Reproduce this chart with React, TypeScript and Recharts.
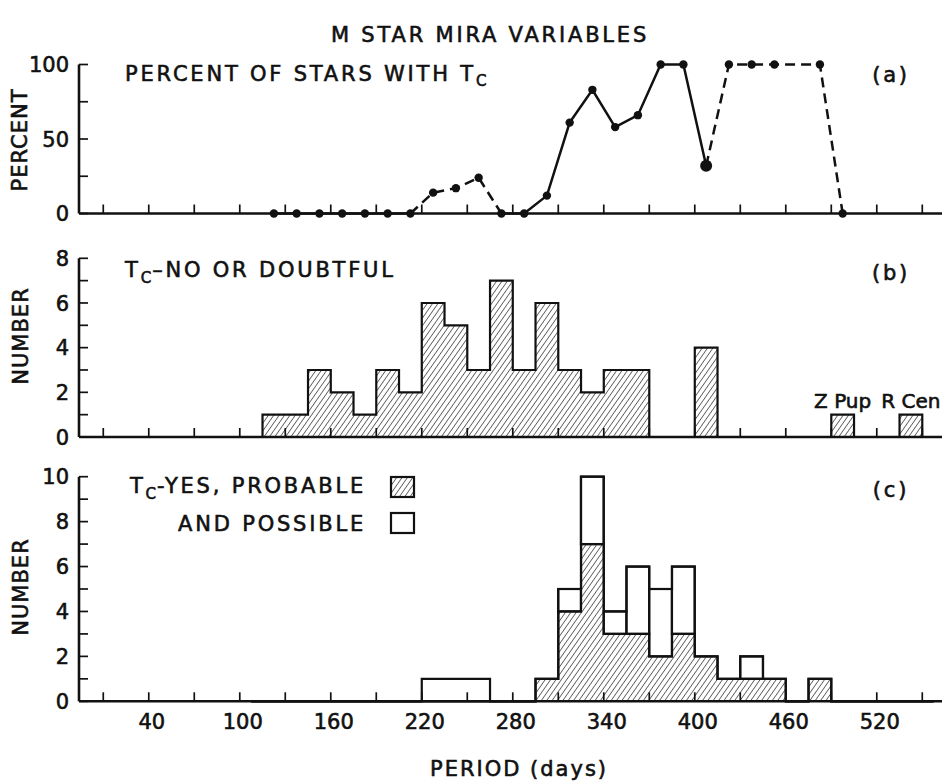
import React from 'react';
import { ComposedChart, Area, Bar, Line, XAxis, YAxis, ReferenceDot } from 'recharts';

const W = 943;
const H = 782;
const FONT = '"DejaVu Sans", "Liberation Sans", sans-serif';
const INK = '#111';
const TEXT_STROKE = 0.6;

// shared period axis (days)
const X_DOMAIN: [number, number] = [-6, 563];
const xTicks = [10, 40, 70, 100, 130, 160, 190, 220, 250, 280, 310, 340, 370, 400, 430, 460, 490, 520, 550];
const xTickLabels = [40, 100, 160, 220, 280, 340, 400, 460, 520];

// (a) percent of stars with Tc, per 15-day bin
const pctDays = [122.5, 137.5, 152.5, 167.5, 182.5, 197.5, 212.5, 227.5, 242.5, 257.5, 272.5, 287.5, 302.5,
  317.5, 332.5, 347.5, 362.5, 377.5, 392.5, 407.5, 422.5, 437.5, 452.5, 482.5, 497.5];
const pctValues = [0, 0, 0, 0, 0, 0, 0, 14, 17, 24, 0, 0, 12, 61, 83, 58, 66, 100, 100, 32, 100, 100, 100, 100, 0];
// style of the segment leaving each point: s = solid, d = dashed
const pctSegStyle = ['s', 's', 's', 's', 's', 's', 'd', 'd', 'd', 'd', 's', 's', 's', 's', 's', 's', 's', 's', 's',
  'd', 'd', 'd', 'd', 'd', ''];
const pctBigDots = [407.5];

// histogram bins, 15 days wide (bin centres)
const binCenters = [107.5, 122.5, 137.5, 152.5, 167.5, 182.5, 197.5, 212.5, 227.5, 242.5, 257.5, 272.5, 287.5,
  302.5, 317.5, 332.5, 347.5, 362.5, 377.5, 392.5, 407.5, 422.5, 437.5, 452.5, 467.5, 482.5, 497.5, 512.5,
  527.5, 542.5, 557.5];
// (b) Tc - no or doubtful
const noDoubtful = [0, 1, 1, 3, 2, 1, 3, 2, 6, 5, 3, 7, 3, 6, 3, 2, 3, 3, 0, 0, 4, 0, 0, 0, 0, 0, 1, 0, 0, 1, 0];
// (c) Tc - yes, probable (hatched) and possible (open, on top)
const yesProbable = [0, 0, 0, 0, 0, 0, 0, 0, 0, 0, 0, 0, 0, 1, 4, 7, 3, 3, 2, 3, 2, 1, 1, 1, 0, 1, 0, 0, 0, 0, 0];
const possible = [0, 0, 0, 0, 0, 0, 0, 0, 1, 1, 1, 0, 0, 0, 1, 3, 1, 3, 3, 3, 0, 0, 1, 0, 0, 0, 0, 0, 0, 0, 0];

const pctTicks = [0, 25, 50, 75, 100];
const pctTickLabels = [0, 50, 100];
const numTicksB = [0, 1, 2, 3, 4, 5, 6, 7, 8];
const numTicksC = [0, 1, 2, 3, 4, 5, 6, 7, 8, 9, 10];
const numTickLabels = [0, 2, 4, 6, 8, 10];

const PLOT_LEFT = 79;
const PLOT_RIGHT = 942;
const XAXIS_H = 30;
const PX_PER_DAY = (PLOT_RIGHT - PLOT_LEFT) / (X_DOMAIN[1] - X_DOMAIN[0]);
const BAR_W = 15 * PX_PER_DAY;

const dataA = pctDays.map((d, i) => {
  const v = pctValues[i];
  const s = pctSegStyle[i];
  const prev = i > 0 ? pctSegStyle[i - 1] : '';
  return {
    x: d,
    pct: v,
    solid: s === 's' || prev === 's' ? v : null,
    dashed: s === 'd' || prev === 'd' ? v : null,
  };
});

const dataB = binCenters.map((c, i) => ({ x: c, no: noDoubtful[i] }));

const dataC = binCenters.map((c, i) => ({
  x: c,
  yes: yesProbable[i],
  total: yesProbable[i] + possible[i],
  open: yesProbable[i] > 0 && possible[i] > 0 ? [yesProbable[i], yesProbable[i] + possible[i]] : null,
}));

const XTick = (props: any) => {
  const { x, y, payload, showLabel } = props;
  const v = payload.value;
  return (
    <g>
      <line x1={x} x2={x} y1={y} y2={y - 9} stroke={INK} strokeWidth={1.7} />
      {showLabel && xTickLabels.includes(v) && (
        <text x={x + 3} y={y + 28} textAnchor="middle" fontSize={21} fontFamily={FONT} fill={INK}
          stroke={INK} strokeWidth={TEXT_STROKE}>
          {v}
        </text>
      )}
    </g>
  );
};

const YTick = (props: any) => {
  const { x, y, payload, labels } = props;
  const v = payload.value;
  return (
    <g>
      <line x1={x} x2={x + 9} y1={y} y2={y} stroke={INK} strokeWidth={1.7} />
      {labels.includes(v) && (
        <text x={x - 10} y={y} dy="0.36em" textAnchor="end" fontSize={21} fontFamily={FONT} fill={INK}
          stroke={INK} strokeWidth={TEXT_STROKE}>
          {v}
        </text>
      )}
    </g>
  );
};

const PctDot = (props: any) => {
  const { cx, cy, payload, index } = props;
  if (cx == null || cy == null) return <g key={index} />;
  const big = pctBigDots.includes(payload.x);
  return <circle key={index} cx={cx} cy={cy} r={big ? 6 : 4.2} fill={INK} />;
};

const OpenBar = (props: any) => {
  const { x, y, width, height, payload } = props;
  if (!payload || !payload.open || !height) return <g />;
  const cx = x + width / 2;
  const top = Math.min(y, y + height);
  return (
    <rect x={cx - BAR_W / 2} y={top} width={BAR_W} height={Math.abs(height)} fill="none" stroke={INK} strokeWidth={2.2} />
  );
};

const Hatch = ({ id }: { id: string }) => (
  <defs>
    <pattern id={id} patternUnits="userSpaceOnUse" width={4.4} height={10} patternTransform="rotate(35)">
      <line x1={0} y1={0} x2={0} y2={10} stroke={INK} strokeWidth={1.2} />
    </pattern>
  </defs>
);

const margins = (top: number, bottom: number) => ({
  top,
  right: W - PLOT_RIGHT,
  left: 0,
  bottom: H - bottom - XAXIS_H,
});

const xAxisProps = (showLabel: boolean) => ({
  type: 'number' as const,
  dataKey: 'x',
  domain: X_DOMAIN,
  ticks: xTicks,
  interval: 0 as const,
  tickSize: 0,
  tickMargin: 0,
  tickLine: false,
  height: XAXIS_H,
  axisLine: { stroke: INK, strokeWidth: 2.6 },
  tick: (p: any) => <XTick {...p} showLabel={showLabel} />,
});

const yAxisProps = (domain: [number, number], ticks: number[], labels: number[]) => ({
  type: 'number' as const,
  domain,
  ticks,
  interval: 0 as const,
  width: PLOT_LEFT,
  tickSize: 0,
  tickMargin: 0,
  tickLine: false,
  axisLine: { stroke: INK, strokeWidth: 2.6 },
  tick: (p: any) => <YTick {...p} labels={labels} />,
});

const layer: React.CSSProperties = { position: 'absolute', left: 0, top: 0 };

const PanelA = () => (
  <div style={layer}>
    <ComposedChart width={W} height={H} data={dataA} margin={margins(64.5, 213.5)}>
      <XAxis {...xAxisProps(false)} />
      <YAxis {...yAxisProps([0, 100], pctTicks, pctTickLabels)} />
      <Line dataKey="solid" stroke={INK} strokeWidth={2.5} dot={false} activeDot={false} isAnimationActive={false} />
      <Line dataKey="dashed" stroke={INK} strokeWidth={2.5} strokeDasharray="10 6" dot={false} activeDot={false}
        isAnimationActive={false} />
      <Line dataKey="pct" stroke="none" dot={PctDot} activeDot={false} isAnimationActive={false} />
    </ComposedChart>
  </div>
);

const refLabel = (value: string) => ({
  value,
  position: 'top' as const,
  offset: 7,
  fill: INK,
  stroke: INK,
  strokeWidth: TEXT_STROKE,
  fontSize: 20,
  fontFamily: FONT,
});

const PanelB = () => (
  <div style={layer}>
    <ComposedChart width={W} height={H} data={dataB} margin={margins(258.3, 437)}>
      <Hatch id="hatch-b" />
      <XAxis {...xAxisProps(false)} />
      <YAxis {...yAxisProps([0, 8], numTicksB, numTickLabels)} />
      <Area type="step" dataKey="no" stroke={INK} strokeWidth={2.2} fill="url(#hatch-b)" fillOpacity={1}
        isAnimationActive={false} />
      <ReferenceDot x={497.5} y={1} r={0} stroke="none" label={refLabel('Z Pup')} />
      <ReferenceDot x={542.5} y={1} r={0} stroke="none" label={refLabel('R Cen')} />
    </ComposedChart>
  </div>
);

const PanelC = () => (
  <div style={layer}>
    <ComposedChart width={W} height={H} data={dataC} margin={margins(476.7, 701.3)}>
      <Hatch id="hatch-c" />
      <XAxis {...xAxisProps(true)} />
      <YAxis {...yAxisProps([0, 10], numTicksC, numTickLabels)} />
      <Area type="step" dataKey="total" stroke={INK} strokeWidth={2.2} fill="#fff" fillOpacity={1}
        isAnimationActive={false} />
      <Area type="step" dataKey="yes" stroke={INK} strokeWidth={2.2} fill="url(#hatch-c)" fillOpacity={1}
        isAnimationActive={false} />
      <Bar dataKey="open" shape={OpenBar} isAnimationActive={false} />
    </ComposedChart>
  </div>
);

const txt = { fontFamily: FONT, fill: INK, fontSize: 21, letterSpacing: 2.8, stroke: INK, strokeWidth: TEXT_STROKE };

const Overlay = () => (
  <svg width={W} height={H} style={{ ...layer, pointerEvents: 'none' }}>
    <defs>
      <pattern id="hatch-key" patternUnits="userSpaceOnUse" width={4.4} height={10} patternTransform="rotate(35)">
        <line x1={0} y1={0} x2={0} y2={10} stroke={INK} strokeWidth={1.2} />
      </pattern>
    </defs>
    <text x={490} y={42} textAnchor="middle" {...txt}>M STAR MIRA VARIABLES</text>

    <text x={125} y={81} {...txt}>
      PERCENT OF STARS WITH T<tspan fontSize={15} dy={5}>C</tspan>
    </text>
    <text x={891} y={82} textAnchor="middle" {...txt}>(a)</text>

    <text x={125} y={277} {...txt}>
      T<tspan fontSize={15} dy={6} letterSpacing={1}>C</tspan>
      <tspan dy={-6}>–NO OR DOUBTFUL</tspan>
    </text>
    <text x={891} y={280} textAnchor="middle" {...txt}>(b)</text>

    <text x={366} y={493} textAnchor="end" {...txt}>
      T<tspan fontSize={15} dy={6} letterSpacing={1}>C</tspan>
      <tspan dy={-6}>-YES, PROBABLE</tspan>
    </text>
    <rect x={391} y={477} width={23} height={20} fill="url(#hatch-key)" stroke={INK} strokeWidth={2.2} />
    <text x={366} y={531} textAnchor="end" {...txt}>AND POSSIBLE</text>
    <rect x={391} y={513} width={23} height={20} fill="#fff" stroke={INK} strokeWidth={2.2} />
    <text x={891} y={497} textAnchor="middle" {...txt}>(c)</text>

    <text x={27} y={140} textAnchor="middle" transform="rotate(-90 27 140)" {...txt} letterSpacing={1}>PERCENT</text>
    <text x={28} y={336} textAnchor="middle" transform="rotate(-90 28 336)" {...txt} letterSpacing={1}>NUMBER</text>
    <text x={28} y={587} textAnchor="middle" transform="rotate(-90 28 587)" {...txt} letterSpacing={1}>NUMBER</text>

    <text x={519} y={776} textAnchor="middle" {...txt} letterSpacing={2}>PERIOD (days)</text>
  </svg>
);

export default function App() {
  return (
    <div style={{ position: 'absolute', left: 0, top: 0, width: W, height: H, background: '#fff' }}>
      <PanelA />
      <PanelB />
      <PanelC />
      <Overlay />
    </div>
  );
}
